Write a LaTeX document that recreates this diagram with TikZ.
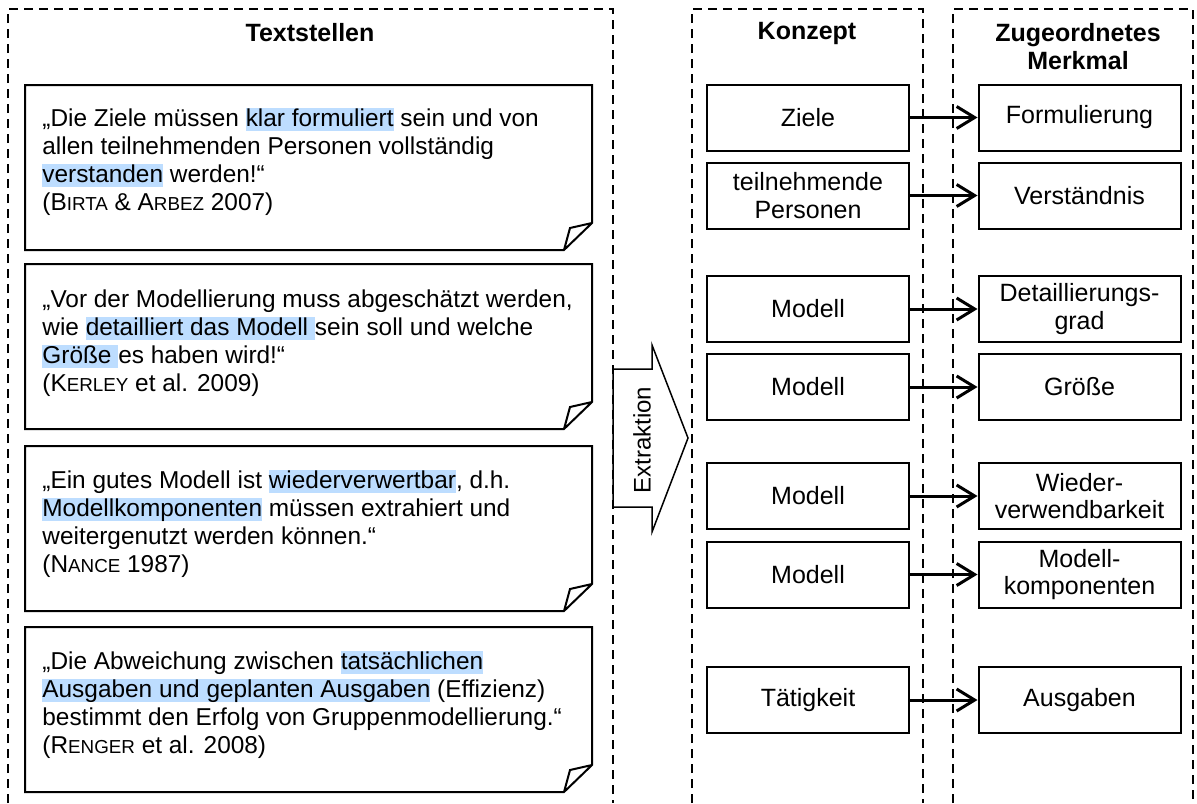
\documentclass[tikz,border=0pt]{standalone}
\usepackage{fontspec}
\setmainfont{Liberation Sans}
\usetikzlibrary{arrows.meta}
\definecolor{markiert}{RGB}{189,221,255}
\setlength{\lineskiplimit}{-5pt}
% Zeilenstuetze und Markierung fuer die Zitate
\newcommand{\zl}{\rule[-2.7pt]{0pt}{11.3pt}}
\newcommand{\hl}[1]{{\setlength{\fboxsep}{0pt}\colorbox{markiert}{\zl#1}}}
% Autorennamen in Kapitaelchen (von Hand)
\newcommand{\kap}[2]{#1{\fontsize{9.4}{10}\selectfont #2}}
\begin{document}
\begin{tikzpicture}[x=0.5pt, y=-0.5pt,
	rahmen/.style={dash pattern=on 4.5pt off 3pt, line width=0.7pt},
	titel/.style={font=\fontsize{12.5}{14}\selectfont\bfseries, align=center},
	zettel/.style={line width=1pt, line join=miter},
	zitat/.style={anchor=north west, inner sep=0pt, align=left, font=\fontsize{12.2}{14}\selectfont},
	begriff/.style={draw, line width=1pt, minimum width=101pt, minimum height=33pt, inner sep=1pt, align=center, font=\fontsize{12.5}{13.8}\selectfont},
	zuordnung/.style={-{Straight Barb[length=9pt, width=11pt]}, line width=1.5pt}]
	\useasboundingbox (0,0) rectangle (1197,803);
	% Spalten
	\draw[rahmen] (8,803) -- (8,9) -- (613,9) -- (613,803);
	\draw[rahmen] (692,803) -- (692,9) -- (923,9) -- (923,803);
	\draw[rahmen] (953,803) -- (953,9) -- (1193,9) -- (1193,803);
	\node[titel] (t1) at (310,33) {Textstellen};
	\node[titel] (t2) at (807,33) {Konzept};
	\node[titel] (t3) at (1078,47) {Zugeordnetes\\Merkmal};
	% Zettel mit Eselsohr
	\foreach \t in {85,264,446,627}
		\draw[zettel] (25,\t) -- (592,\t) -- (592,\t+138) -- (564,\t+165) -- (25,\t+165) -- cycle
			(564,\t+165) -- (570,\t+143) -- (592,\t+138);
	\node[zitat] (z1) at (42,108) {\zl„Die Ziele müssen \hl{klar formuliert} sein und von\\
		allen teilnehmenden Personen vollständig\\
		\hl{verstanden} werden!“\\
		(\kap{B}{IRTA} \& \kap{A}{RBEZ} 2007)};
	\node[zitat] (z2) at (42,289) {\zl„Vor der Modellierung muss abgeschätzt werden,\\
		wie \hl{detailliert das Modell }sein soll und welche\\
		\hl{Größe }es haben wird!“\\
		(\kap{K}{ERLEY} et al. 2009)};
	\node[zitat] (z3) at (42,470) {\zl„Ein gutes Modell ist \hl{wiederverwertbar}, d.h.\\
		\hl{Modellkomponenten} müssen extrahiert und\\
		weitergenutzt werden können.“\\
		(\kap{N}{ANCE} 1987)};
	\node[zitat] (z4) at (42,651) {\zl„Die Abweichung zwischen \hl{tatsächlichen}\\
		\hl{Ausgaben und geplanten Ausgaben} (Effizienz)\\
		bestimmt den Erfolg von Gruppenmodellierung.“\\
		(\kap{R}{ENGER} et al. 2008)};
	% Blockpfeil
	\draw[line width=0.75pt, fill=white] (613,369) -- (652,369) -- (652,345) -- (688,438)
		-- (652,532) -- (652,507) -- (613,507) -- cycle;
	\node[rotate=90, font=\fontsize{12}{13}\selectfont] (ex) at (642,440) {Extraktion};
	% Konzepte und Merkmale
	\foreach \n/\y/\k/\m in {1/117.5/Ziele/Formulierung,
			2/195.5/{teilnehmende\\Personen}/Verständnis,
			3/309/Modell/{Detaillierungs-\\grad},
			4/387/Modell/Größe,
			5/496/Modell/{Wieder-\\verwendbarkeit},
			6/574.5/Modell/{Modell-\\komponenten},
			7/700/Tätigkeit/Ausgaben} {
		\node[begriff] (k\n) at (808,\y) {\k};
		\node[begriff] (m\n) at (1079.5,\y) {\m};
		\draw[zuordnung] (k\n) -- (m\n);
	}
\end{tikzpicture}
\end{document}
